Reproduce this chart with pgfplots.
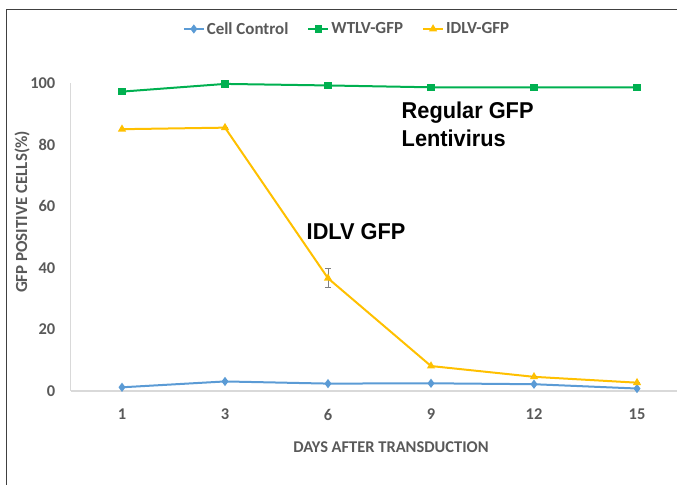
\documentclass[border=0pt]{standalone}
\usepackage{pgfplots}
\pgfplotsset{compat=1.18}
\usepackage{fontspec}
\setmainfont{Carlito}
\newfontfamily\annfont[FakeStretch=0.95]{Liberation Sans}
\definecolor{cblue}{HTML}{5B9BD5}
\definecolor{cgreen}{HTML}{00B050}
\definecolor{cyellow}{HTML}{FFC000}
\definecolor{ctext}{HTML}{595959}
\definecolor{cax}{HTML}{D9D9D9}
\begin{document}
\begin{tikzpicture}[x=1bp,y=1bp]
\useasboundingbox (0,0) rectangle (677,485);
\begin{axis}[
  at={(70.5bp,94bp)}, anchor=south west,
  scale only axis, width=618bp, height=308bp,
  xmin=0.5, xmax=6.5, ymin=0, ymax=100,
  axis x line=bottom, axis y line=left,
  axis line style={draw=cax, line width=1.2bp, -},
  xtick={1,2,3,4,5,6}, xticklabels={1,3,6,9,12,15},
  ytick={0,20,40,60,80,100},
  major tick length=0pt, tick style={draw=none},
  ticklabel style={font=\fontsize{16.5}{18}\selectfont\bfseries, text=ctext, inner sep=0pt},
  yticklabel style={anchor=east, xshift=-15bp},
  xticklabel style={anchor=north, yshift=-18bp},
  /pgf/number format/assume math mode=true,
  clip=false,
  legend style={at={(276.5bp,362bp)}, anchor=center, draw=none, fill=none,
    font=\fontsize{17}{19}\selectfont\bfseries, text=ctext,
    legend columns=3, /tikz/every even column/.append style={column sep=17bp},
    inner sep=0pt},
  legend image code/.code={\draw[mark repeat=2,mark phase=2] plot coordinates {(0bp,0bp) (10bp,0bp) (20bp,0bp)};},
]
\addplot[cblue, line width=2bp, mark=diamond*, mark size=3bp] coordinates {
 (1,1.2) (2,3.1) (3,2.4) (4,2.5) (5,2.2) (6,0.8)};
\addlegendentry{Cell Control}
\addplot[cgreen, line width=2bp, mark=square*, mark size=2.6bp] coordinates {
 (1,97.2) (2,99.7) (3,99.2) (4,98.6) (5,98.6) (6,98.6)};
\addlegendentry{WTLV-GFP}
\addplot[cyellow, line width=2bp, mark=triangle*, mark size=2.8bp,
  error bars/.cd, y dir=both, y explicit,
  error bar style={draw=gray, line width=0.8bp}, error mark options={draw=gray, rotate=90, mark size=3bp, line width=0.8bp}] coordinates {
 (1,85.0) +- (0,0) (2,85.5) +- (0,0) (3,36.6) +- (0,3.1) (4,8.1) +- (0,0) (5,4.6) +- (0,0) (6,2.7) +- (0,0)};
\addlegendentry{IDLV-GFP}
\end{axis}
\node[rotate=90, font=\fontsize{17}{19}\selectfont\bfseries, text=ctext, inner sep=0pt] at (22,273) {GFP POSITIVE CELLS(\%)};
\node[font=\fontsize{16.5}{18}\selectfont\bfseries, text=ctext, inner sep=0pt] at (391,38) {DAYS AFTER TRANSDUCTION};
\node[anchor=base west, inner sep=0pt, font=\annfont\fontsize{23}{26}\selectfont\bfseries] at (401.5,366.7) {Regular GFP};
\node[anchor=base west, inner sep=0pt, font=\annfont\fontsize{23}{26}\selectfont\bfseries] at (401.5,338.3) {Lentivirus};
\node[anchor=base west, inner sep=0pt, font=\annfont\fontsize{23}{26}\selectfont\bfseries] at (306.5,245.7) {IDLV GFP};
\draw[draw=black!75, line width=1.8bp] (6.5,0) -- (6.5,475.5) -- (680,475.5);
\end{tikzpicture}
\end{document}
